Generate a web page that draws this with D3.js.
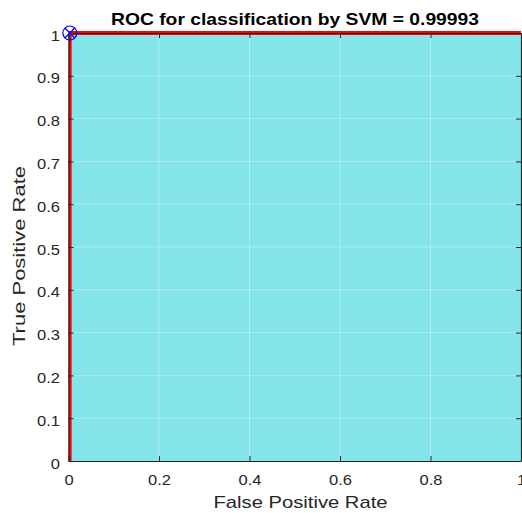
<!DOCTYPE html>
<html>
<head>
<meta charset="utf-8">
<script src="https://cdn.jsdelivr.net/npm/d3@7"></script>
<style>
  body { margin: 0; background: #fff; }
  text { font-family: "Liberation Sans", Arial, sans-serif; }
</style>
</head>
<body>
<svg id="chart" width="522" height="513"></svg>
<script>
// ROC curve
const fpr = [0, 0.0025, 0.0025, 1];
const tpr = [0, 0, 1, 1];
const optPoint = [0.003, 1];
const auc = 0.99993;
const xTicks = [0, 0.2, 0.4, 0.6, 0.8, 1];
const yTicks = [0, 0.1, 0.2, 0.3, 0.4, 0.5, 0.6, 0.7, 0.8, 0.9, 1];

const svg = d3.select("#chart");
const pLeft = 68.5, pRight = 521, pTop = 33, pBottom = 461;

const x = d3.scaleLinear().domain([0, 1]).range([pLeft, pRight]);
const y = d3.scaleLinear().domain([0, 1]).range([pBottom, pTop]);
const pts = fpr.map((f, i) => [f, tpr[i]]);

// area under curve
const area = d3.area().x(d => x(d[0])).y0(y(0)).y1(d => y(d[1]));
svg.append("path").datum(pts).attr("d", area).attr("fill", "#84e5ea");

// grid
const grid = svg.append("g");
grid.selectAll(".gx").data(xTicks.slice(1, -1)).enter().append("line")
  .attr("x1", d => x(d)).attr("x2", d => x(d)).attr("y1", pTop).attr("y2", pBottom)
  .attr("stroke", "#ffffff").attr("stroke-opacity", 0.3);
grid.selectAll(".gy").data(yTicks.slice(1, -1)).enter().append("line")
  .attr("y1", d => y(d)).attr("y2", d => y(d)).attr("x1", pLeft).attr("x2", pRight)
  .attr("stroke", "#ffffff").attr("stroke-opacity", 0.3);

// ROC line
svg.append("defs").append("clipPath").attr("id", "clip")
  .append("rect").attr("x", pLeft).attr("y", 0).attr("width", pRight - pLeft + 3).attr("height", pBottom);
const line = d3.line().x(d => x(d[0])).y(d => y(d[1]));
svg.append("path").datum(pts).attr("d", line)
  .attr("fill", "none").attr("stroke", "#ff0000").attr("stroke-width", 4)
  .attr("clip-path", "url(#clip)");

// axes (box with inward ticks)
const ink = "#262626";
const fmt = d => d3.format("")(d);
const axB = svg.append("g").attr("transform", `translate(0,${pBottom})`)
  .call(d3.axisBottom(x).tickValues(xTicks).tickSizeInner(-5).tickSizeOuter(0).tickPadding(13.5).tickFormat(fmt));
const axT = svg.append("g").attr("transform", `translate(0,${pTop})`)
  .call(d3.axisTop(x).tickValues(xTicks).tickSizeInner(-5).tickSizeOuter(0).tickFormat(""));
const axL = svg.append("g").attr("transform", `translate(${pLeft},0)`)
  .call(d3.axisLeft(y).tickValues(yTicks).tickSizeInner(-5).tickSizeOuter(0).tickPadding(8.5).tickFormat(fmt));
const axR = svg.append("g").attr("transform", `translate(${pRight},0)`)
  .call(d3.axisRight(y).tickValues(yTicks).tickSizeInner(-5).tickSizeOuter(0).tickFormat(""));
[axB, axT, axL, axR].forEach(g => {
  g.select(".domain").attr("stroke", ink).attr("stroke-width", 1.2);
  g.selectAll(".tick line").attr("stroke", ink);
  g.selectAll(".tick text").attr("fill", ink).style("font-size", "15px")
    .style("font-family", "'Liberation Sans', Arial, sans-serif")
    .each(function () {
      // reference font runs a bit wider
      this.setAttribute("textLength", this.getComputedTextLength() * 1.1);
      this.setAttribute("lengthAdjust", "spacingAndGlyphs");
    });
});
axL.selectAll(".tick text").attr("dy", "0.47em");

// optimal operating point marker
const m = svg.append("g").attr("transform", `translate(${x(optPoint[0])},${y(optPoint[1])})`);
m.append("circle").attr("r", 7).attr("fill", "none").attr("stroke", "#0000ff").attr("stroke-width", 1.2);
m.append("path").attr("d", "M-5,-5L5,5M-5,5L5,-5").attr("stroke", "#0000ff").attr("stroke-width", 1.2);

// labels
svg.append("text").attr("x", 295).attr("y", 25).attr("text-anchor", "middle")
  .style("font-size", "17px").style("font-weight", "bold").attr("fill", "#000")
  .attr("textLength", 368).attr("lengthAdjust", "spacingAndGlyphs")
  .text("ROC for classification by SVM = " + auc);
svg.append("text").attr("x", 300.5).attr("y", 507.5).attr("text-anchor", "middle")
  .style("font-size", "17px").attr("fill", ink)
  .attr("textLength", 174).attr("lengthAdjust", "spacingAndGlyphs")
  .text("False Positive Rate");
svg.append("text").attr("transform", "translate(25,256) rotate(-90)")
  .attr("text-anchor", "middle").style("font-size", "17px").attr("fill", ink)
  .attr("textLength", 180).attr("lengthAdjust", "spacingAndGlyphs")
  .text("True Positive Rate");
</script>
</body>
</html>
